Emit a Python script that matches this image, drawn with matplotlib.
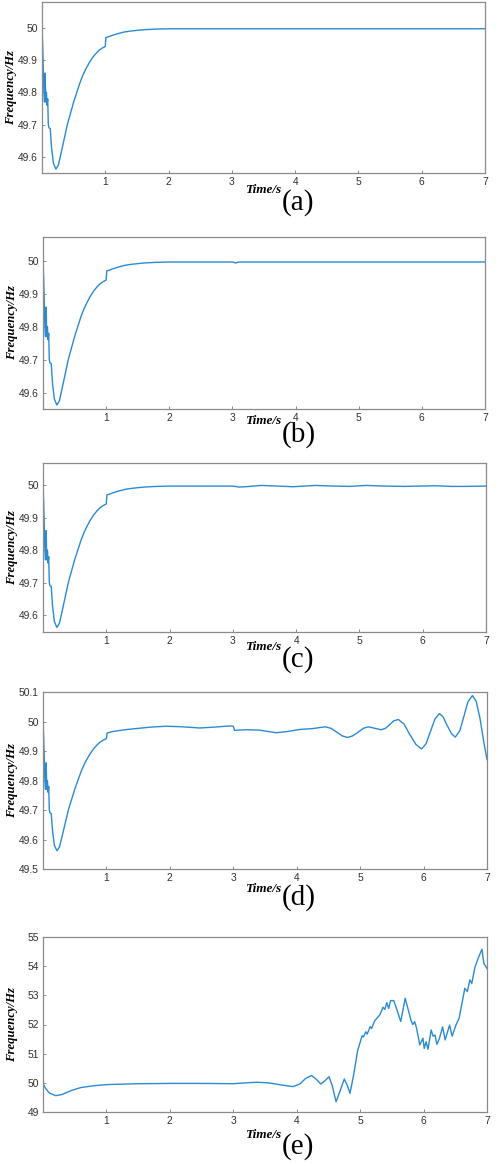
import matplotlib
matplotlib.use("Agg")
import matplotlib.pyplot as plt
from matplotlib.ticker import FuncFormatter

# ---------------- data ----------------
# common start of the transient (0 .. 1 s), panels a-d
t_start = [0.0, 0.01, 0.03, 0.04, 0.05, 0.06, 0.07, 0.08, 0.09, 0.10, 0.11, 0.13,
           0.15, 0.18, 0.22, 0.26, 0.30, 0.35, 0.40, 0.45, 0.50, 0.55, 0.60,
           0.65, 0.70, 0.75, 0.80, 0.85, 0.90, 0.95, 1.00]
f_start = [50.0, 49.95, 49.80, 49.77, 49.86, 49.77, 49.80, 49.76, 49.78, 49.70, 49.69, 49.688,
           49.63, 49.58, 49.562, 49.575, 49.61, 49.655, 49.70, 49.735, 49.77, 49.80, 49.83,
           49.855, 49.875, 49.893, 49.908, 49.92, 49.93, 49.937, 49.942]

# tails after the 1 s step
t_tail_a = [1.01, 1.05, 1.1, 1.2, 1.3, 1.4, 1.6, 1.8, 2.0, 3.0, 7.0]
f_tail_a = [49.970, 49.972, 49.976, 49.982, 49.987, 49.990, 49.994, 49.996, 49.997, 49.997, 49.997]

t_tail_b = [1.01, 1.05, 1.1, 1.2, 1.3, 1.4, 1.6, 1.8, 2.0, 3.0, 3.05, 3.1, 3.2, 7.0]
f_tail_b = [49.970, 49.972, 49.976, 49.982, 49.987, 49.990, 49.994, 49.996, 49.997, 49.997,
            49.994, 49.997, 49.997, 49.997]

t_tail_c = [1.01, 1.05, 1.1, 1.2, 1.3, 1.4, 1.6, 1.8, 2.0, 3.0, 3.1, 3.2, 3.45, 3.7, 3.95,
            4.3, 4.6, 4.85, 5.1, 5.4, 5.7, 5.95, 6.2, 6.45, 6.7, 7.0]
f_tail_c = [49.970, 49.972, 49.976, 49.982, 49.987, 49.990, 49.994, 49.996, 49.997, 49.997,
            49.994, 49.995, 49.999, 49.997, 49.995, 49.999, 49.997, 49.996, 49.999, 49.997,
            49.996, 49.997, 49.998, 49.996, 49.996, 49.997]

t_tail_d = [1.01, 1.1, 1.25, 1.42, 1.7, 1.95, 2.2, 2.47, 2.7, 2.95, 3.0, 3.02, 3.2, 3.4,
            3.55, 3.68, 3.85, 4.05, 4.25, 4.45, 4.54, 4.63, 4.72, 4.8, 4.88, 4.97, 5.05,
            5.13, 5.23, 5.33, 5.40, 5.47, 5.53, 5.60, 5.69, 5.78, 5.88, 5.97, 6.04, 6.11,
            6.18, 6.25, 6.31, 6.37, 6.44, 6.50, 6.57, 6.635, 6.70, 6.77, 6.83, 6.89, 6.95, 7.0]
f_tail_d = [49.961, 49.966, 49.971, 49.975, 49.981, 49.984, 49.982, 49.978, 49.981, 49.985,
            49.984, 49.970, 49.972, 49.971, 49.966, 49.962, 49.966, 49.973, 49.976, 49.982,
            49.977, 49.964, 49.951, 49.946, 49.951, 49.964, 49.977, 49.982, 49.977, 49.972,
            49.977, 49.990, 50.002, 50.007, 49.992, 49.957, 49.922, 49.907, 49.925, 49.967,
            50.009, 50.027, 50.015, 49.987, 49.959, 49.947, 49.968, 50.017, 50.067, 50.088,
            50.068, 50.010, 49.930, 49.871]

t_e = [0.0, 0.04, 0.1, 0.2, 0.3, 0.45, 0.6, 0.8, 1.0, 1.5, 2.05, 2.5, 3.0, 3.2, 3.37,
       3.55, 3.75, 3.94, 4.05, 4.14, 4.235, 4.31, 4.38, 4.45, 4.51, 4.56, 4.62, 4.68,
       4.75, 4.80, 4.84, 4.90, 4.96, 5.03, 5.05, 5.09, 5.11, 5.16, 5.18,
       5.23, 5.31, 5.36, 5.39, 5.42, 5.45, 5.48, 5.53, 5.59, 5.64, 5.71, 5.80, 5.83,
       5.86, 5.89, 5.94, 5.99, 6.01, 6.04, 6.07, 6.12, 6.15, 6.18, 6.21, 6.25, 6.30,
       6.34, 6.41, 6.45, 6.51, 6.56, 6.65, 6.69, 6.73, 6.76, 6.81, 6.86, 6.92, 6.95, 7.0]
f_e = [49.98, 49.81, 49.65, 49.56, 49.60, 49.74, 49.84, 49.90, 49.94, 49.97, 49.98, 49.98,
       49.97, 50.00, 50.02, 50.00, 49.93, 49.87, 49.96, 50.15, 50.25, 50.12, 49.96, 50.08,
       50.21, 49.90, 49.35, 49.70, 50.13, 49.90, 49.64, 50.30, 51.10, 51.61, 51.57,
       51.75, 51.67, 51.93, 51.86, 52.13, 52.33, 52.59, 52.52, 52.75, 52.55, 52.82, 52.82,
       52.44, 52.10, 52.90, 52.16, 52.00, 52.10, 51.87, 51.30, 51.53, 51.18, 51.41, 51.15,
       51.81, 51.60, 51.64, 51.32, 51.52, 51.92, 51.47, 51.98, 51.60, 51.98, 52.21, 53.24,
       53.13, 53.53, 53.41, 53.96, 54.27, 54.58, 54.10, 53.92]

panel_labels = ["(a)", "(b)", "(c)", "(d)", "(e)"]
x_ticks = [1, 2, 3, 4, 5, 6, 7]
y_ticks_small = [49.6, 49.7, 49.8, 49.9, 50.0]
y_ticks_d = [49.5, 49.6, 49.7, 49.8, 49.9, 50.0, 50.1]
y_ticks_e = [49, 50, 51, 52, 53, 54, 55]
x_label = "Time/s"
y_label = "Frequency/Hz"

series = [
    (t_start + t_tail_a, f_start + f_tail_a),
    (t_start + t_tail_b, f_start + f_tail_b),
    (t_start + t_tail_c, f_start + f_tail_c),
    (t_start + t_tail_d, f_start + f_tail_d),
    (t_e, f_e),
]
ylims = [(49.55, 50.08), (49.55, 50.073), (49.548, 50.068), (49.5, 50.1), (49.0, 55.0)]
yticks_all = [y_ticks_small, y_ticks_small, y_ticks_small, y_ticks_d, y_ticks_e]

# ---------------- layout (pixels) ----------------
W, H = 499, 1166
boxes = [  # left, top, right, bottom
    (42, 2, 485, 173),
    (43, 237, 485, 409),
    (43, 463, 486, 632),
    (43, 692, 487, 869),
    (43, 937, 487, 1112),
]
label_y = [(190, 203), (421, 435), (647, 660), (889, 898), (1135, 1147)]

fig = plt.figure(figsize=(W / 100, H / 100), dpi=100)
line_color = "#2a8ad4"
edge = "#8a8a8a"
serif = ["Liberation Serif", "DejaVu Serif"]

for i, ((l, t, r, b), (xs, ys)) in enumerate(zip(boxes, series)):
    ax = fig.add_axes([l / W, 1 - b / H, (r - l) / W, (b - t) / H])
    ax.plot(xs, ys, color=line_color, lw=1.0)
    ax.set_xlim(0, 7)
    ax.set_ylim(*ylims[i])
    ax.set_xticks(x_ticks)
    ax.set_yticks(yticks_all[i])
    ax.yaxis.set_major_formatter(FuncFormatter(lambda v, p: f"{v:g}"))
    ax.xaxis.set_major_formatter(FuncFormatter(lambda v, p: f"{v:g}"))
    for s in ax.spines.values():
        s.set_color(edge)
        s.set_linewidth(0.9)
    ax.tick_params(direction="in", length=2.5, width=0.7, color=edge,
                   labelsize=7.4, labelcolor="#303030", pad=3)
    for lab in ax.get_xticklabels() + ax.get_yticklabels():
        lab.set_family(["Liberation Sans", "DejaVu Sans"])
    ax.set_ylabel(y_label, fontsize=9.2, fontstyle="italic", fontweight="bold", family=serif)
    ax.yaxis.set_label_coords(-25 / (r - l), 0.5)
    ty, py = label_y[i]
    fig.text(281 / W, 1 - ty / H, x_label, ha="right", va="center", fontsize=9.5,
             fontstyle="italic", fontweight="bold", family=serif)
    fig.text(282 / W, 1 - py / H, panel_labels[i], ha="left", va="center", fontsize=21,
             family=serif)

fig.savefig("out.png", dpi=100)
